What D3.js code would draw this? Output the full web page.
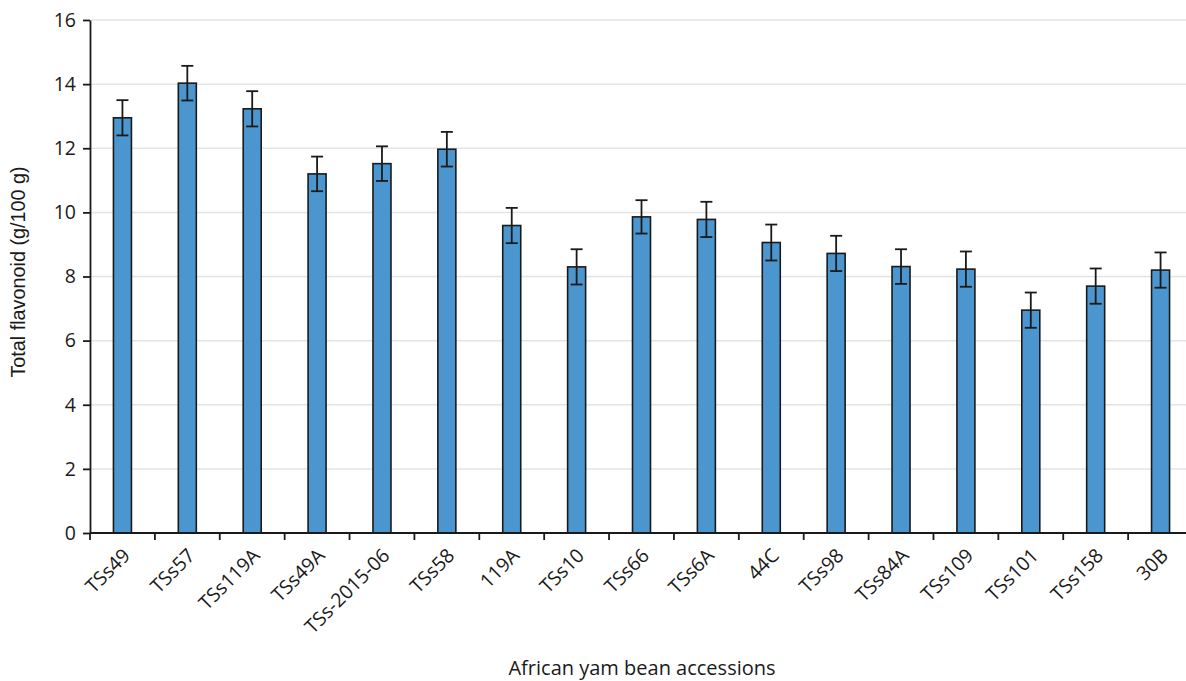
<!DOCTYPE html>
<html><head><meta charset="utf-8">
<script src="https://cdn.jsdelivr.net/npm/d3@7"></script>
<style>body{margin:0;background:#fff;} svg{display:block;}</style>
</head><body>
<svg id="c" width="1186" height="681"></svg>
<script>
const categories = ["TSs49","TSs57","TSs119A","TSs49A","TSs-2015-06","TSs58","119A","TSs10","TSs66","TSs6A","44C","TSs98","TSs84A","TSs109","TSs101","TSs158","30B"];
const values = [12.95,14.03,13.23,11.2,11.52,11.97,9.59,8.3,9.86,9.78,9.06,8.72,8.31,8.23,6.95,7.70,8.2];
const errors = [0.55,0.54,0.55,0.54,0.54,0.54,0.55,0.55,0.52,0.55,0.56,0.55,0.54,0.55,0.55,0.55,0.55];
const yTicks = [0,2,4,6,8,10,12,14,16];

const svg = d3.select("#c");
const m = {left:90, top:20, bottom:533, right:1193};
const x = d3.scaleBand().domain(categories).range([m.left, m.right]).paddingInner(0).paddingOuter(0);
const y = d3.scaleLinear().domain([0,16]).range([m.bottom, m.top]);
const tickFont = "'Open Sans', 'Noto Sans', sans-serif";

// gridlines
svg.append("g").selectAll("line").data(yTicks.filter(d=>d>0)).join("line")
  .attr("x1", m.left).attr("x2", 1186).attr("y1", d=>y(d)).attr("y2", d=>y(d))
  .attr("stroke", "#e4e4e4").attr("stroke-width", 1.5);

// bars
const bw = 18;
svg.append("g").selectAll("rect").data(categories).join("rect")
  .attr("x", (d)=>x(d)+x.bandwidth()/2-bw/2)
  .attr("y", (d,i)=>y(values[i]))
  .attr("width", bw)
  .attr("height", (d,i)=>y(0)-y(values[i]))
  .attr("fill", "#4b96cf").attr("stroke", "#1a1a1a").attr("stroke-width", 1.6);

// error bars
const eg = svg.append("g").attr("stroke", "#1a1a1a").attr("stroke-width", 1.8);
categories.forEach((c,i)=>{
  const cx = x(c)+x.bandwidth()/2;
  const hi = y(values[i]+errors[i]), lo = y(values[i]-errors[i]);
  eg.append("line").attr("x1",cx).attr("x2",cx).attr("y1",hi).attr("y2",lo);
  eg.append("line").attr("x1",cx-6).attr("x2",cx+6).attr("y1",hi).attr("y2",hi);
  eg.append("line").attr("x1",cx-6).attr("x2",cx+6).attr("y1",lo).attr("y2",lo);
});

// y axis
const ya = svg.append("g").attr("transform", `translate(${m.left},0)`)
  .call(d3.axisLeft(y).tickValues(yTicks).tickSize(7).tickSizeOuter(0).tickPadding(7));
ya.select(".domain").attr("stroke","#1a1a1a").attr("stroke-width",1.8);
ya.selectAll(".tick line").attr("stroke","#1a1a1a").attr("stroke-width",1.8);
ya.selectAll("text").attr("font-family", tickFont).attr("font-size", 19.5).attr("fill","#1a1a1a");

// x axis
const xa = svg.append("g").attr("transform", `translate(0,${m.bottom})`);
xa.append("line").attr("x1", m.left).attr("x2", 1186).attr("y1",0).attr("y2",0)
  .attr("stroke","#1a1a1a").attr("stroke-width",1.8);
xa.selectAll("line.t").data(categories).join("line").attr("class","t")
  .attr("x1", d=>x(d)).attr("x2", d=>x(d)).attr("y1",0).attr("y2",7)
  .attr("stroke","#1a1a1a").attr("stroke-width",1.8);
xa.selectAll("text").data(categories).join("text")
  .attr("transform", d=>`translate(${x(d)+x.bandwidth()/2+4},${19}) rotate(-45)`)
  .attr("text-anchor","end").attr("dy","0.35em")
  .attr("font-family", tickFont).attr("font-size", 19.5).attr("fill","#1a1a1a")
  .text(d=>d);

// axis titles
svg.append("text").attr("x", 642).attr("y", 675).attr("text-anchor","middle")
  .attr("font-family", tickFont).attr("font-size", 20).attr("fill","#1a1a1a")
  .text("African yam bean accessions");
svg.append("text").attr("transform", "translate(25,272) rotate(-90)").attr("text-anchor","middle")
  .attr("font-family", "'Liberation Sans', Arial, sans-serif").attr("font-size", 19.8).attr("fill","#1a1a1a")
  .text("Total flavonoid (g/100 g)");
</script>
</body></html>
